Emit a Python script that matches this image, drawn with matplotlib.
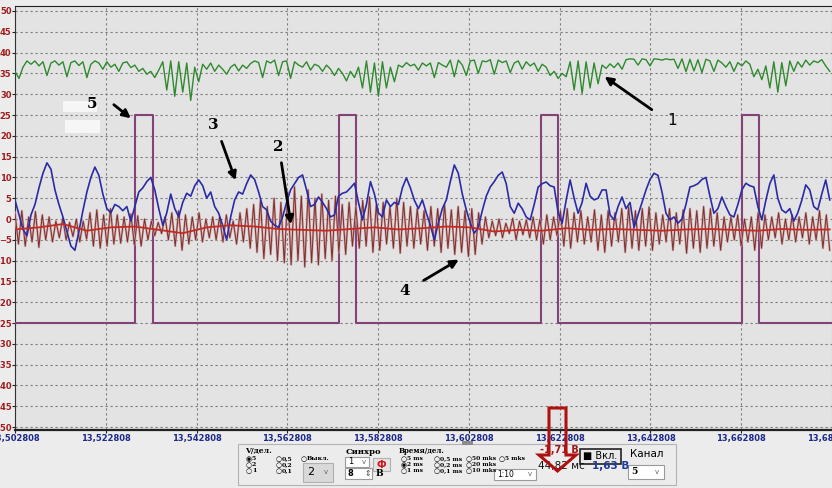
"""Oscilloscope screen: five channels with pulse sync, control panel below."""

import numpy as np
import matplotlib
matplotlib.use("Agg")
import matplotlib.pyplot as plt
from matplotlib.patches import Rectangle, Polygon
from matplotlib.ticker import FuncFormatter

W, H = 832, 488

# time axis in ms from the left edge; labels show seconds (13.502808 + t)
T0 = 13.502808
T_END = 179.5
X_MAX = 179.7
x_ticks = [0, 20, 40, 60, 80, 100, 120, 140, 160, 180]
y_ticks = list(range(-50, 55, 5))

# channel 1 (green)
green = [
    35.5, 33.8, 36.5, 38.0, 37.2, 38.0, 36.8, 37.8, 34.5, 37.5,
    38.0, 37.0, 37.8, 34.2, 37.6, 38.0, 36.9, 37.8, 34.0, 37.2,
    38.0, 37.5, 36.0, 37.8, 36.5, 37.2, 35.5, 37.5, 37.8, 36.4,
    37.0, 35.5, 36.2, 34.8, 35.5, 34.0, 35.8, 37.8, 31.0, 38.0,
    29.5, 37.8, 30.5, 37.5, 28.5, 36.5, 33.0, 37.2, 36.0, 37.5,
    35.5, 37.0, 36.0, 34.8, 36.5, 37.2, 35.6, 37.0, 36.2, 37.4,
    38.0, 37.6, 34.0, 38.0, 37.5, 38.2, 34.5, 37.8, 38.0, 33.8,
    37.8, 37.0, 36.5, 37.8, 35.8, 37.2, 36.8, 35.5, 37.0, 36.0,
    34.5, 36.2, 35.0, 33.2, 35.5, 34.0, 36.5, 31.5, 38.0, 30.5,
    37.5, 29.5, 37.8, 31.5, 36.5, 33.0, 37.0, 36.5, 37.6, 36.8,
    37.2, 35.8, 37.5, 36.8, 37.5, 34.0, 37.6, 37.0, 36.5, 38.2,
    34.2, 38.2, 37.0, 34.5, 38.0, 38.2, 35.0, 38.0, 37.8, 38.3,
    34.8, 38.2, 37.6, 38.0, 35.2, 37.5, 38.0, 36.0, 37.8, 36.8,
    37.5, 35.5, 37.2, 36.5, 34.5, 35.5, 33.8, 35.0, 34.2, 37.8,
    31.0, 38.0, 30.2, 37.8, 31.5, 37.5, 32.5, 37.0, 36.2, 37.3,
    36.4, 37.5, 36.0, 38.3, 38.5, 38.4, 37.0, 38.5, 38.3, 36.8,
    38.5, 38.4, 38.2, 38.5, 38.3, 38.4, 36.2, 38.5, 35.4, 38.4,
    35.6, 38.3, 35.2, 38.4, 38.0, 35.5, 38.2, 37.5, 36.5, 37.8,
    35.5, 37.6, 36.8, 38.0, 37.2, 34.2, 36.0, 33.5, 36.8, 31.5,
    37.8, 30.5, 37.6, 32.0, 38.0, 35.5, 37.8, 36.5, 38.2, 37.0,
    38.0, 37.6, 38.3, 36.8, 35.5,
]

# channel 3 (blue)
blue = [
    4.6, 1.0, -2.5, -4.0, 1.0, 3.5, 7.5, 11.0, 13.5, 12.0,
    7.0, 3.5, 0.5, -3.0, -6.5, -7.5, -3.0, 2.0, 6.5, 10.0,
    12.5, 10.5, 6.0, 2.5, 1.5, 3.5, 3.0, 2.0, 3.0, -0.5,
    3.0, 6.5, 7.5, 9.0, 10.0, 7.0, 2.5, -1.5, 1.5, 6.0,
    2.5, 0.5, 4.0, 6.2, 5.5, 8.0, 9.4, 8.0, 5.0, 6.5,
    3.0, 1.4, -1.5, -5.0, 0.5, 4.6, 6.5, 6.0, 8.5, 10.6,
    9.5, 6.5, 3.0, 2.2, -0.5, -1.5, -2.0, 0.5, 4.0, 7.0,
    8.5, 10.0, 10.6, 7.0, 3.0, 3.5, 5.3, 4.0, 2.5, 0.5,
    1.0, 5.5, 6.2, 6.5, 7.5, 8.6, 4.0, -0.2, 3.5, 9.0,
    6.0, 1.5, 0.5, 4.6, 3.0, 4.0, 3.5, 7.5, 9.9, 7.5,
    4.5, 2.5, 4.6, 1.4, -1.5, -5.0, -1.0, 2.5, 4.6, 9.0,
    13.0, 11.0, 6.0, 2.2, -1.0, -3.4, -2.0, 2.0, 5.5, 7.7,
    9.0, 10.5, 11.3, 8.5, 3.0, 1.4, 3.8, 2.5, 0.5, -0.2,
    3.5, 7.7, 8.5, 8.9, 8.0, 7.7, 1.5, -1.0, 4.5, 9.4,
    5.0, 1.4, 4.0, 8.6, 5.5, 4.6, 5.0, 7.0, 7.0, 1.0,
    -0.2, 3.0, 5.3, 2.5, 4.0, -2.0, 1.0, 4.0, 7.0, 9.5,
    11.0, 10.5, 6.5, 1.4, -0.2, 0.5, -1.0, 0.0, 3.5, 7.7,
    8.0, 8.5, 9.5, 10.0, 5.5, 1.4, 2.5, 5.3, 3.0, 1.0,
    0.5, 3.5, 7.0, 8.6, 8.0, 7.7, 3.0, -0.2, 4.5, 8.5,
    10.6, 5.0, 2.2, 1.5, 2.5, -0.5, 1.5, 4.5, 8.2, 7.0,
    3.0, 2.2, 6.0, 9.4, 4.6,
]

# channels 2/4 (dark red, fast oscillation)
brown = [
    1.5, -6.0, 2.0, -6.5, 0.5, -5.5, 1.8, -6.8, 1.0, -5.0,
    0.5, -5.5, -0.5, -4.5, 0.2, -5.0, -0.8, -4.2, 0.0, -5.5,
    -0.5, -4.8, 1.5, -6.5, 2.2, -7.0, 1.0, -6.5, 2.5, -6.0,
    1.0, -5.8, 0.5, -5.5, 1.2, -6.2, 0.8, -6.5, 0.0, -5.0,
    -0.5, -4.0, -0.8, -3.5, 0.5, -5.0, 1.5, -6.5, 2.0, -7.5,
    1.0, -6.0, 0.5, -5.0, 1.5, -5.5, 0.0, -4.5, 0.5, -5.0,
    0.5, -5.5, 1.0, -4.5, -0.5, -6.0, 1.5, -5.5, 2.5, -7.0,
    3.5, -8.0, 4.5, -9.5, 3.0, -8.5, 5.0, -10.0, 4.0, -10.5,
    6.5, -11.0, 7.7, -10.0, 5.5, -11.5, 7.0, -10.5, 5.0, -11.0,
    6.0, -9.5, 4.5, -10.0, 5.5, -8.0, 3.5, -8.5, 4.0, -6.5,
    3.0, -7.0, 4.5, -6.5, 5.3, -8.0, 3.5, -7.5, 4.0, -6.0,
    3.0, -7.0, 5.0, -8.2, 4.0, -6.5, 3.0, -7.0, 2.5, -6.0,
    2.0, -7.5, 3.0, -6.5, 2.5, -8.0, 3.5, -7.0, 2.2, -8.5,
    3.0, -8.0, 2.0, -9.0, 2.5, -8.5, 1.5, -6.0, 0.5, -4.5,
    -0.5, -4.0, 0.0, -4.5, -1.0, -3.5, 0.2, -5.0, -0.5, -3.8,
    -0.2, -4.5, 0.5, -5.0, 0.0, -6.0, 1.0, -5.0, 0.5, -4.0,
    2.0, -6.5, 2.5, -7.0, 1.5, -5.5, 2.0, -6.0, 0.5, -5.5,
    2.2, -7.5, 1.0, -8.0, 2.0, -6.5, 1.5, -5.5, 2.5, -8.0,
    2.9, -7.0, 2.0, -7.5, 2.5, -6.5, 2.9, -7.5, 1.5, -6.0,
    1.0, -5.5, 2.5, -7.5, 1.5, -6.0, 2.2, -8.2, 2.5, -7.0,
    2.0, -8.0, 3.0, -7.0, 2.5, -6.5, 1.5, -7.5, 0.5, -5.5,
    0.5, -5.0, 1.0, -6.5, 0.0, -5.5, 0.5, -7.5, 1.5, -7.0,
    1.0, -5.0, 0.5, -4.5, 1.5, -6.0, 0.0, -5.0, 1.0, -5.5,
    0.5, -4.5, 1.5, -6.0, 0.5, -5.0, 2.0, -7.0, 1.0, -7.5,
]

# smooth red line
red = [
    -2.5, -2.0, -1.2, -2.8, -2.0, -1.8, -2.6, -3.4, -2.0, -1.5,
    -1.8, -2.4, -2.6, -2.8, -2.4, -2.0, -2.5, -2.2, -1.8, -2.0,
    -3.0, -2.6, -2.8, -2.2, -2.6, -2.4, -2.6, -2.8, -2.5, -2.4,
    -2.6, -2.8, -2.4, -2.6, -2.5,
]

# channel 5 (sync pulses)
pulse_start = [26.5, 71.4, 115.9, 160.2]
pulse_end = [30.4, 75.2, 119.7, 163.9]
pulse_low = -25
pulse_high = 25


def fx(px):
    return px / W


def fy(py):
    return 1 - py / H


def fig_box(fig, x0, y0, x1, y1, fc="white", ec="#9a9a9a", lw=0.8, z=2):
    fig.patches.append(Rectangle((fx(x0), fy(y1)), (x1 - x0) / W, (y1 - y0) / H,
                                 transform=fig.transFigure, facecolor=fc,
                                 edgecolor=ec, linewidth=lw, zorder=z))


def fig_txt(fig, x, y, s, size=6, **kw):
    kw.setdefault("va", "center")
    kw.setdefault("ha", "left")
    fig.text(fx(x), fy(y), s, fontsize=size, zorder=10, **kw)


fig = plt.figure(figsize=(W / 100, H / 100), dpi=100, facecolor="#ececec")
ax = fig.add_axes([fx(15), fy(430), (W - 15) / W, (430 - 6) / H])
ax.set_facecolor("#e3e3e3")

# traces
t_green = np.linspace(0, T_END, len(green))
t_blue = np.linspace(0, T_END, len(blue))
t_brown = np.linspace(0, T_END, len(brown))
t_red = np.linspace(0, T_END, len(red))

px_, py_ = [0], [pulse_low]
for s, e in zip(pulse_start, pulse_end):
    px_ += [s, s, e, e]
    py_ += [pulse_low, pulse_high, pulse_high, pulse_low]
px_.append(X_MAX)
py_.append(pulse_low)

ax.plot(px_, py_, color="#84427a", lw=1.5, zorder=3)
ax.plot(t_brown, brown, color="#d2a2a2", lw=1.6, zorder=3)
ax.plot(t_brown, brown, color="#7a3030", lw=0.7, zorder=4)
ax.plot(t_blue, blue, color="#2b2ba6", lw=1.2, zorder=5)
ax.plot(t_red, red, color="#c42a22", lw=1.3, zorder=6)
ax.plot(t_green, green, color="#2f8a2f", lw=1.0, zorder=5)

ax.set_xlim(0, X_MAX)
ax.set_ylim(-50.7, 51.2)
ax.set_xticks(x_ticks)
ax.set_yticks(y_ticks)
ax.xaxis.set_major_formatter(
    FuncFormatter(lambda v, p: f"{T0 + v / 1000:.6f}".replace(".", ",")))
ax.grid(True, color="#7c7c7c", linestyle=(0, (2, 2.5)), linewidth=0.8)
ax.tick_params(axis="y", colors="#222222", labelcolor="#a01c1c", labelsize=6,
               length=2, pad=0.5)
ax.tick_params(axis="x", colors="#222222", labelcolor="#1c2a8c", labelsize=6,
               length=2, pad=1)
for lbl in ax.get_xticklabels() + ax.get_yticklabels():
    lbl.set_fontweight("bold")
ax.spines["right"].set_visible(False)
ax.spines["left"].set_color("#333333")
ax.spines["top"].set_color("#222222")
ax.spines["bottom"].set_color("#222222")
ax.spines["bottom"].set_linewidth(1.6)

# whitish blur patches left by the scan
for x0, x1, y0, y1 in [(10.6, 18.0, 25.7, 28.4), (11.0, 18.7, 20.7, 23.8)]:
    ax.add_patch(Rectangle((x0, y0), x1 - x0, y1 - y0, facecolor="#f6f6f6",
                           edgecolor="none", zorder=2))

# channel markers
arrow = dict(arrowstyle="-|>", color="black", lw=2.0, mutation_scale=12)
ax.text(16.9, 27.6, "5", fontsize=11, fontweight="bold", family="DejaVu Serif",
        ha="center", va="center", zorder=8)
ax.annotate("", xy=(26.0, 23.8), xytext=(21.3, 27.9), arrowprops=arrow, zorder=8)
ax.text(43.6, 22.6, "3", fontsize=11, fontweight="bold", family="DejaVu Serif",
        ha="center", va="center", zorder=8)
ax.annotate("", xy=(48.8, 8.7), xytext=(45.3, 19.3), arrowprops=arrow, zorder=8)
ax.text(58.1, 17.3, "2", fontsize=11, fontweight="bold", family="DejaVu Serif",
        ha="center", va="center", zorder=8)
ax.annotate("", xy=(60.9, -1.9), xytext=(58.6, 14.2), arrowprops=arrow, zorder=8)
ax.text(85.8, -17.3, "4", fontsize=11, fontweight="bold", family="DejaVu Serif",
        ha="center", va="center", zorder=8)
ax.annotate("", xy=(98.3, -9.4), xytext=(89.5, -15.1), arrowprops=arrow, zorder=8)
ax.text(144.8, 23.8, "1", fontsize=11, ha="center", va="center", zorder=8)
ax.annotate("", xy=(129.4, 34.6), xytext=(140.8, 25.9), arrowprops=arrow, zorder=8)

# control panel
fig_box(fig, 238, 444, 676, 485, fc="#ececec", ec="#b4b4b4", z=1)
fig_box(fig, 462, 441, 473, 445, fc="#8c8c8c", ec="none")
ser = "DejaVu Serif"
fig_txt(fig, 245, 451, "V/дел.", 5.5, family=ser, fontweight="bold")
for col_x, labels, sel in [(246, ["5", "2", "1"], 0), (276, ["0,5", "0,2", "0,1"], -1)]:
    for i, lab in enumerate(labels):
        fig_txt(fig, col_x, 459 + 6 * i, "◉" if i == sel else "○", 5)
        fig_txt(fig, col_x + 6, 459 + 6 * i, lab, 4.5, family=ser, fontweight="bold")
fig_txt(fig, 301, 459, "○", 5)
fig_txt(fig, 307, 459, "Выкл.", 4.5, family=ser, fontweight="bold")
fig_box(fig, 303, 463, 333, 482, fc="#d9d9d9", ec="#b0b0b0")
fig_txt(fig, 307, 472, "2", 8)
fig_txt(fig, 324, 472, "v", 5, color="#666666")

fig_txt(fig, 346, 452, "Синхро", 6, family=ser, fontweight="bold")
fig_box(fig, 345, 457, 369, 467)
fig_txt(fig, 348, 462, "1", 6)
fig_txt(fig, 362, 462, "v", 5, color="#666666")
fig_box(fig, 373, 458, 390, 471, fc="#e4e4e4", ec="#b0b0b0")
fig_txt(fig, 381.5, 464.5, "Ф", 7, color="#d01818", ha="center", fontweight="bold")
fig_box(fig, 345, 468, 372, 479)
fig_txt(fig, 348, 473.5, "8", 6, fontweight="bold")
fig_txt(fig, 364, 473.5, "⇕", 5.5, color="#444444")
fig_txt(fig, 376, 474, "В", 6.5, family=ser, fontweight="bold")

fig_txt(fig, 399, 451, "Время/дел.", 5, family=ser, fontweight="bold")
time_cols = [(401, ["5 ms", "2 ms", "1 ms"], 1),
             (434, ["0,5 ms", "0,2 ms", "0,1 ms"], -1),
             (466, ["50 mks", "20 mks", "10 mks"], -1),
             (499, ["5 mks"], -1)]
for col_x, labels, sel in time_cols:
    for i, lab in enumerate(labels):
        fig_txt(fig, col_x, 459 + 6 * i, "◉" if i == sel else "○", 5)
        fig_txt(fig, col_x + 6, 459 + 6 * i, lab, 4.3, family=ser, fontweight="bold")
fig_box(fig, 494, 469, 536, 480)
fig_txt(fig, 497, 474.5, "1:10", 5.5)
fig_txt(fig, 528, 474.5, "v", 5, color="#666666")

fig_txt(fig, 540, 450, "-1,71 В", 7, color="#a01818", fontweight="bold")
fig_txt(fig, 538, 466, "44,82 мс", 7.5, color="#111111")
fig_txt(fig, 592, 466, "1,63 В", 7.5, color="#1f3a9a", fontweight="bold")
fig_box(fig, 580, 449, 621, 464, fc="#e9e9e9", ec="#222222", lw=1.2)
fig_txt(fig, 583, 456.5, "■ Вкл.", 7)
fig_txt(fig, 630, 454, "Канал", 7.5)
fig_box(fig, 628, 465, 664, 479)
fig_txt(fig, 631, 472, "5", 6.5, family=ser, fontweight="bold")
fig_txt(fig, 655, 472, "v", 5, color="#666666")

# red pointer over the time readout
arrow_px = [(549, 408), (566, 408), (566, 455), (576, 455), (557.5, 471),
            (539, 455), (549, 455)]
fig.patches.append(Polygon([(fx(x), fy(y)) for x, y in arrow_px], closed=True,
                           transform=fig.transFigure, fill=False,
                           edgecolor="#b01010", linewidth=2.2, zorder=20))

fig.savefig("out.png", dpi=100, facecolor=fig.get_facecolor())
plt.close(fig)
